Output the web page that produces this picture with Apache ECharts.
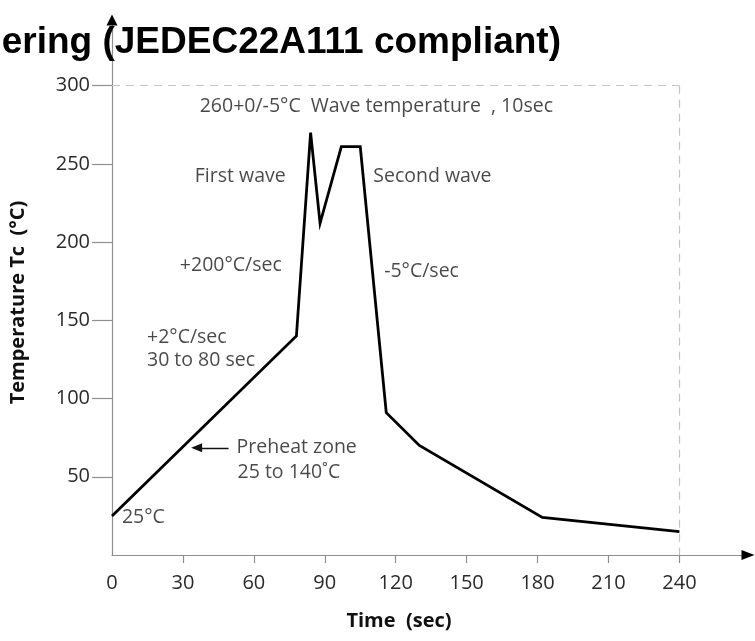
<!DOCTYPE html>
<html>
<head>
<meta charset="utf-8">
<script src="https://cdn.jsdelivr.net/npm/echarts@6/dist/echarts.min.js"></script>
<style>
  html, body { margin: 0; padding: 0; background: #fff; }
  #chart { width: 755px; height: 641px; }
</style>
</head>
<body>
<div id="chart"></div>
<script>
// Wave soldering temperature profile
const times = [0, 78, 84, 88, 97, 105, 116, 130, 182, 240];
const temps = [25, 140, 270, 212, 261, 261, 91, 70, 24, 15];

const xTickValues = [0, 30, 60, 90, 120, 150, 180, 210, 240];
const yTickValues = [50, 100, 150, 200, 250, 300];

// profile window shown with the dashed frame
const windowEnd = 240;
const windowTop = 300;

// text notes: [text, time, temperature]
const noteTexts = [
  '260+0/-5°C  Wave temperature  , 10sec',
  'First wave',
  'Second wave',
  '+200°C/sec',
  '-5°C/sec',
  '+2°C/sec',
  '30 to 80 sec',
  'Preheat zone',
  '25 to 140˚C',
  '25°C'
];
const noteTimes = [37.1, 35.0, 110.5, 28.7, 115.1, 14.8, 14.8, 52.7, 53.1, 4.2];
const noteTemps = [286.7, 241.9, 241.9, 185.1, 181.4, 138.9, 124.1, 68.5, 52.5, 24.3];

// preheat pointer: from time, to time, at temperature
const pointerFrom = 49.3, pointerTo = 35.8, pointerTemp = 68.5;

const chart = echarts.init(document.getElementById('chart'), null, { renderer: 'canvas' });

const textFont = '"Open Sans", "Noto Sans", sans-serif';
const axisGray = '#8f8f8f';

// plain overlay axes that only carry the black arrow heads
const arrowAxis = (max, size) => ({
  type: 'value',
  min: 0,
  max: max,
  show: true,
  splitLine: { show: false },
  axisTick: { show: false },
  axisLabel: { show: false },
  axisLine: {
    show: true,
    symbol: ['none', 'triangle'],
    symbolSize: size,
    lineStyle: { color: '#000', width: 0 }
  }
});

const option = {
  animation: false,
  backgroundColor: '#ffffff',
  title: {
    text: 'Wave Soldering (JEDEC22A111 compliant)',
    right: 194,
    top: 24,
    padding: 0,
    textStyle: {
      fontFamily: '"Liberation Sans", Arial, sans-serif',
      fontWeight: 'bold',
      fontSize: 37,
      color: '#000'
    }
  },
  grid: { left: 110, right: 7, top: 20, bottom: 86 },
  xAxis: [
    {
      type: 'value',
      min: 0,
      max: 269,
      name: 'Time  (sec)',
      nameLocation: 'middle',
      nameGap: 56,
      nameTextStyle: {
        fontFamily: textFont,
        fontWeight: 'bold',
        fontSize: 20,
        color: '#111',
        padding: [0, 62, 0, 0]
      },
      splitLine: { show: false },
      axisLine: {
        show: true,
        symbol: 'none',
        lineStyle: { color: axisGray, width: 1.2 }
      },
      axisTick: {
        show: true,
        length: 8,
        customValues: xTickValues.slice(1),
        lineStyle: { color: axisGray, width: 1.2 }
      },
      axisLabel: {
        customValues: xTickValues,
        margin: 18,
        fontFamily: textFont,
        fontSize: 20,
        color: '#2a2a2a'
      }
    },
    Object.assign(arrowAxis(269, [10, 13]), { position: 'bottom' })
  ],
  yAxis: [
    {
      type: 'value',
      min: 0,
      max: 342,
      name: 'Temperature Tc  (°C)',
      nameLocation: 'middle',
      nameGap: 84,
      nameRotate: 90,
      nameTextStyle: {
        fontFamily: textFont,
        fontWeight: 'bold',
        fontSize: 20,
        color: '#111',
        padding: [0, 30, 0, 0]
      },
      splitLine: { show: false },
      axisLine: {
        show: true,
        symbol: 'none',
        lineStyle: { color: axisGray, width: 1.2 }
      },
      axisTick: {
        show: true,
        length: 20,
        customValues: yTickValues,
        lineStyle: { color: axisGray, width: 1.2 }
      },
      axisLabel: {
        customValues: yTickValues,
        margin: 22,
        fontFamily: textFont,
        fontSize: 20,
        color: '#2a2a2a'
      }
    },
    Object.assign(arrowAxis(342, [11, 11]), { position: 'left' })
  ],
  series: [
    {
      type: 'line',
      data: times.map((t, i) => [t, temps[i]]),
      symbol: 'none',
      silent: true,
      lineStyle: { color: '#000', width: 2.8, join: 'miter' },
      markLine: {
        silent: true,
        symbol: 'none',
        label: { show: false },
        lineStyle: { color: '#c4c4c4', type: [8, 6], width: 1.2 },
        data: [
          [{ coord: [0, windowTop] }, { coord: [windowEnd, windowTop] }],
          [{ coord: [windowEnd, windowTop] }, { coord: [windowEnd, 0] }]
        ]
      },
      z: 3
    },
    {
      type: 'line',
      data: [],
      silent: true,
      markLine: {
        silent: true,
        symbol: ['none', 'triangle'],
        symbolSize: [9, 11],
        symbolRotate: 90,
        label: { show: false },
        lineStyle: { color: '#111', type: 'solid', width: 1.4 },
        data: [
          [{ coord: [pointerFrom, pointerTemp] }, { coord: [pointerTo, pointerTemp] }]
        ]
      }
    },
    {
      type: 'scatter',
      silent: true,
      symbolSize: 0,
      itemStyle: { color: 'transparent' },
      label: {
        show: true,
        position: 'right',
        distance: 0,
        fontFamily: textFont,
        fontSize: 19.5,
        color: '#1a1a1a',
        formatter: p => noteTexts[p.dataIndex]
      },
      labelLayout: { hideOverlap: false },
      data: noteTimes.map((t, i) => [t, noteTemps[i]])
    }
  ]
};

chart.setOption(option);
</script>
</body>
</html>
